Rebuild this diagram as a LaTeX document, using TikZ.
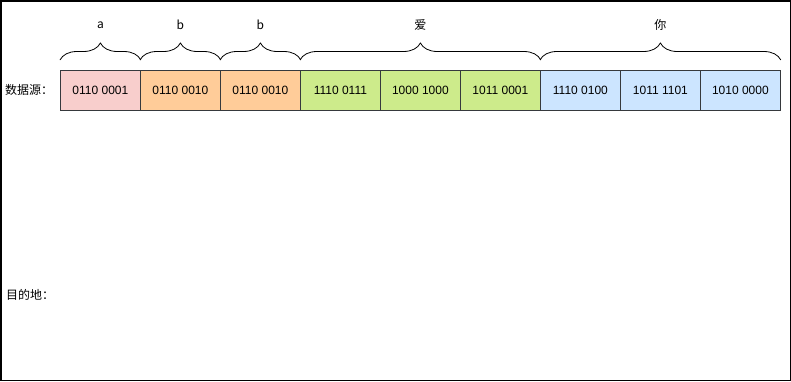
\documentclass[tikz,border=0pt]{standalone}
\usepackage{fontspec}
\setmainfont{Liberation Sans}
\newfontfamily\cjk{Noto Sans CJK SC}
\usetikzlibrary{positioning,decorations.pathreplacing}
\definecolor{pinkfill}{HTML}{F8CECC}
\definecolor{orangefill}{HTML}{FFCC99}
\definecolor{greenfill}{HTML}{CDEB8B}
\definecolor{bluefill}{HTML}{CCE5FF}
\definecolor{cellline}{HTML}{36393D}
\begin{document}
\begin{tikzpicture}[x=1pt,y=-1pt]
        \tikzstyle{cell} = [rectangle, minimum width=80pt, minimum height=40pt, inner sep=0pt, text centered, draw=cellline, line width=0.8pt, font=\fontsize{12}{14}\selectfont, node distance=80pt]
        \tikzstyle{brace} = [decorate, decoration={brace, amplitude=17pt}, line width=0.8pt]
        \tikzstyle{tag} = [font=\fontsize{12}{14}\selectfont\cjk, inner sep=0pt]

                \useasboundingbox (0,0) rectangle (791,381);
                \draw[line width=1.5pt] (0.75,0.75) rectangle (790.25,380.25);

                % data source cells
                \node (s1) [cell, fill=pinkfill, anchor=north west] at (60,70) {0110 0001};
                \node (s2) [cell, fill=orangefill, right of=s1] {0110 0010};
                \node (s3) [cell, fill=orangefill, right of=s2] {0110 0010};
                \node (s4) [cell, fill=greenfill, right of=s3] {1110 0111};
                \node (s5) [cell, fill=greenfill, right of=s4] {1000 1000};
                \node (s6) [cell, fill=greenfill, right of=s5] {1011 0001};
                \node (s7) [cell, fill=bluefill, right of=s6] {1110 0100};
                \node (s8) [cell, fill=bluefill, right of=s7] {1011 1101};
                \node (s9) [cell, fill=bluefill, right of=s8] {1010 0000};

                \node (src) [tag, anchor=west] at (5,90) {数据源：};
                \node (dst) [tag, anchor=west] at (6,295) {目的地：};

                % characters over the bytes
                \draw[brace] ([yshift=10pt]s1.north west) -- ([yshift=10pt]s1.north east) node (ca) [tag, midway, yshift=35pt] {a};
                \draw[brace] ([yshift=10pt]s2.north west) -- ([yshift=10pt]s2.north east) node (cb1) [tag, midway, yshift=35pt] {b};
                \draw[brace] ([yshift=10pt]s3.north west) -- ([yshift=10pt]s3.north east) node (cb2) [tag, midway, yshift=35pt] {b};
                \draw[brace] ([yshift=10pt]s4.north west) -- ([yshift=10pt]s6.north east) node (cai) [tag, midway, yshift=35pt] {爱};
                \draw[brace] ([yshift=10pt]s7.north west) -- ([yshift=10pt]s9.north east) node (cni) [tag, midway, yshift=35pt] {你};

    \end{tikzpicture}
\end{document}
